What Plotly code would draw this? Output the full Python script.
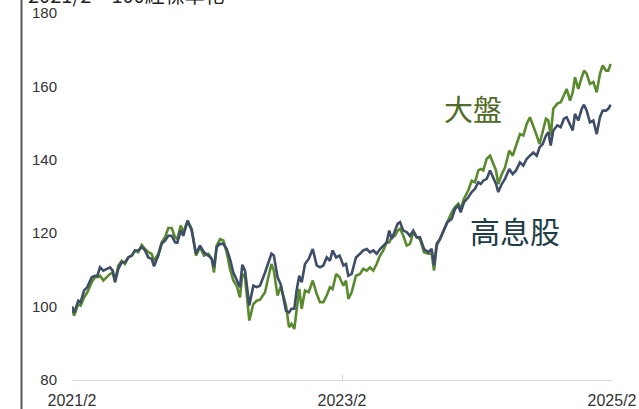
import plotly.graph_objects as go

# Months elapsed since 2021/2 for each observation
months = [
    0.00, 0.18, 0.56, 0.77, 1.07, 1.36, 1.75, 2.04, 2.25, 2.49,
    2.78, 3.08, 3.38, 3.62, 3.82, 4.12, 4.42, 4.71, 5.00, 5.31,
    5.60, 5.89, 6.20, 6.49, 6.78, 7.08, 7.29, 7.67, 7.97, 8.27,
    8.56, 8.86, 9.16, 9.36, 9.66, 9.89, 10.28, 10.64, 11.02, 11.38,
    11.73, 12.12, 12.42, 12.62, 12.86, 13.16, 13.45, 13.75, 14.04, 14.34,
    14.64, 14.93, 15.14, 15.38, 15.76, 16.12, 16.42, 16.71, 17.16, 17.45,
    17.73, 17.94, 18.27, 18.56, 18.84, 19.02, 19.29, 19.51, 19.76, 19.97,
    20.20, 20.42, 20.71, 21.04, 21.40, 21.75, 22.04, 22.34, 22.64, 22.93,
    23.16, 23.48, 23.78, 24.12, 24.36, 24.56, 24.86, 25.24, 25.60, 25.89,
    26.20, 26.49, 26.78, 27.08, 27.38, 27.67, 27.97, 28.20, 28.42, 28.71,
    28.95, 29.16, 29.45, 29.75, 30.04, 30.34, 30.64, 30.93, 31.29, 31.67,
    31.97, 32.18, 32.42, 32.71, 33.07, 33.36, 33.75, 34.04, 34.34, 34.55,
    34.84, 35.23, 35.53, 35.82, 36.12, 36.33, 36.56, 36.86, 37.16, 37.45,
    37.69, 37.89, 38.20, 38.49, 38.87, 39.17, 39.47, 39.82, 40.12, 40.42,
    40.71, 41.00, 41.31, 41.56, 41.84, 42.13, 42.34, 42.55, 42.78, 43.14,
    43.44, 43.73, 43.97, 44.27, 44.51, 44.71, 45.00, 45.31, 45.51, 45.75,
    46.04, 46.34, 46.64, 46.93, 47.17, 47.47, 47.67, 47.88,
]

# 高息股 index (2021/2 = 100)
high_div = [
    100.0, 98.3, 101.6, 101.2, 104.4, 105.3, 108.0, 108.4, 108.3, 110.7,
    109.8, 110.3, 110.7, 109.8, 106.6, 110.3, 112.1, 112.1, 113.4, 113.9,
    115.3, 115.3, 116.2, 115.3, 113.4, 113.0, 111.0, 113.9, 117.1, 118.0,
    119.3, 119.3, 117.5, 117.4, 120.7, 119.3, 123.4, 120.7, 114.4, 116.6,
    114.8, 113.9, 113.0, 110.7, 116.2, 117.1, 117.1, 115.7, 113.0, 109.3,
    107.1, 105.3, 111.4, 109.8, 100.3, 105.7, 105.3, 105.7, 109.3, 112.1,
    114.4, 113.9, 108.0, 106.0, 102.1, 98.9, 98.4, 99.4, 99.4, 104.5,
    108.4, 106.6, 111.6, 113.0, 115.7, 111.2, 110.7, 111.2, 113.4, 112.5,
    115.3, 113.4, 113.9, 111.2, 111.6, 108.4, 108.9, 113.4, 114.4, 115.3,
    115.7, 114.8, 115.3, 114.4, 115.7, 116.6, 117.5, 120.7, 118.4, 120.7,
    122.6, 123.0, 120.7, 120.3, 119.3, 120.7, 118.9, 118.9, 115.7, 114.8,
    115.7, 111.2, 117.1, 118.4, 121.2, 123.0, 123.9, 126.6, 127.5, 125.7,
    128.4, 129.8, 131.2, 132.1, 133.9, 133.4, 134.3, 134.8, 137.1, 135.3,
    133.4, 131.2, 133.4, 134.8, 137.5, 136.1, 137.1, 139.3, 138.4, 140.3,
    141.1, 142.0, 141.1, 143.4, 144.3, 146.6, 147.5, 143.9, 148.0, 149.4,
    148.9, 151.2, 151.6, 149.8, 148.0, 152.5, 150.7, 153.9, 155.0, 153.4,
    150.2, 150.7, 147.0, 151.6, 153.4, 153.4, 153.9, 155.0,
]

# 大盤 index (2021/2 = 100)
market = [
    100.0, 97.5, 100.7, 100.3, 102.5, 103.9, 106.6, 108.0, 108.0, 108.4,
    107.1, 108.0, 108.9, 109.3, 107.1, 111.2, 112.5, 111.6, 113.4, 113.9,
    115.3, 114.8, 116.8, 115.7, 114.8, 114.4, 112.5, 114.4, 117.5, 118.9,
    121.4, 121.4, 118.9, 118.4, 122.1, 120.3, 123.4, 121.2, 113.9, 116.2,
    113.9, 114.4, 113.0, 109.3, 116.6, 118.4, 118.0, 114.8, 110.3, 107.1,
    105.7, 102.5, 108.9, 108.0, 96.2, 100.7, 101.6, 101.9, 103.9, 108.0,
    111.6, 109.8, 103.0, 105.5, 102.0, 100.3, 94.4, 95.3, 93.9, 99.8,
    104.8, 99.4, 104.4, 103.9, 107.1, 103.5, 101.2, 101.2, 103.0, 105.3,
    104.8, 108.9, 108.0, 105.7, 107.1, 102.1, 103.9, 108.4, 108.9, 110.3,
    109.8, 110.7, 109.8, 111.6, 113.9, 115.3, 117.5, 117.5, 118.9, 119.3,
    120.7, 121.2, 119.3, 116.6, 117.1, 120.3, 118.9, 118.4, 114.8, 114.4,
    114.4, 109.8, 116.6, 118.4, 121.2, 123.0, 125.7, 127.1, 128.0, 126.6,
    129.4, 131.7, 134.3, 133.9, 137.1, 137.5, 137.1, 140.3, 141.1, 138.8,
    137.1, 133.4, 136.1, 137.9, 142.5, 141.1, 143.9, 147.0, 146.6, 149.8,
    151.6, 149.4, 146.6, 144.3, 147.5, 151.2, 150.7, 146.6, 153.9, 155.3,
    155.7, 157.6, 159.3, 156.1, 158.4, 162.5, 159.3, 162.5, 164.3, 163.4,
    160.7, 161.2, 158.4, 163.4, 165.7, 164.3, 164.3, 166.1,
]

x_tickvals = [0, 24, 48]
x_ticktext = ["2021/2", "2023/2", "2025/2"]
y_tickvals = [80, 100, 120, 140, 160, 180]

GREEN = "#5a8a2e"
NAVY = "#3e4d68"
LABEL_FONT = "Liberation Sans, Arial, sans-serif"
CJK_FONT = "Noto Sans CJK TC, Noto Sans CJK SC, sans-serif"

fig = go.Figure()
fig.add_trace(go.Scatter(
    x=months, y=market, mode="lines", name="大盤",
    line=dict(color=GREEN, width=2.6),
))
fig.add_trace(go.Scatter(
    x=months, y=high_div, mode="lines", name="高息股",
    line=dict(color=NAVY, width=2.6),
))

fig.update_layout(
    width=639, height=409,
    margin=dict(l=72, r=27, t=13, b=29, autoexpand=False),
    paper_bgcolor="white", plot_bgcolor="white",
    showlegend=False,
    font=dict(family=LABEL_FONT, size=15, color="#333333"),
    xaxis=dict(
        range=[0, 48], tickvals=x_tickvals, ticktext=x_ticktext,
        showgrid=False, zeroline=False, automargin=False,
        showline=True, linecolor="#d9d9d9", linewidth=1.2,
        ticks="inside", ticklen=6, tickcolor="#d9d9d9", tickwidth=1,
        tickfont=dict(size=16, color="#333333"),
        ticklabelstandoff=6,
    ),
    yaxis=dict(
        range=[80, 180], tickvals=y_tickvals,
        showgrid=False, zeroline=False, showline=False, automargin=False,
        ticks="", tickfont=dict(size=15, color="#333333"),
        ticklabelstandoff=14,
    ),
)

# Dark vertical rule at the far left of the frame
fig.add_shape(
    type="line", xref="paper", yref="paper",
    x0=-0.0935, x1=-0.0935, y0=-0.2, y1=1.2,
    line=dict(color="#555555", width=2),
)

# Heading above the plot (top edge runs past the frame)
fig.add_annotation(
    text="2021/2 = 100經標準化", xref="paper", yref="paper",
    x=-0.086, y=1.0, xanchor="left", yanchor="bottom",
    yshift=2, showarrow=False,
    font=dict(family=CJK_FONT, size=20, color="#222222"),
)

# Series labels
fig.add_annotation(
    text="大盤", x=35.64, y=154.1, showarrow=False,
    font=dict(family=CJK_FONT, size=29, color="#4f6b26"),
)
fig.add_annotation(
    text="高息股", x=39.42, y=121.0, showarrow=False,
    font=dict(family=CJK_FONT, size=30, color="#1c3d46"),
)

fig.write_html("out.html")
